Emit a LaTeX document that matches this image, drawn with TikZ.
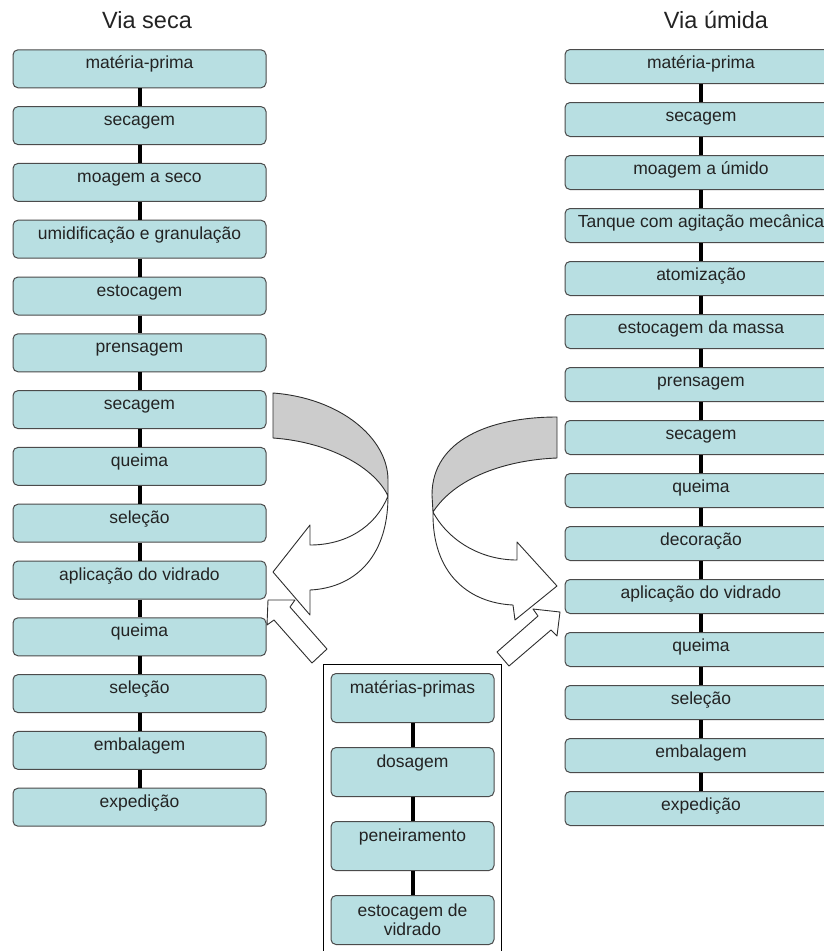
\documentclass[tikz,border=0pt]{standalone}
\usepackage{fontspec}
\setmainfont{Liberation Sans}
\definecolor{boxfill}{RGB}{184,223,226}
\definecolor{boxline}{RGB}{75,75,75}
\definecolor{txt}{RGB}{35,35,35}
\definecolor{ribgray}{RGB}{204,204,204}
\definecolor{arrline}{RGB}{45,45,45}
\begin{document}
\begin{tikzpicture}[x=1pt,y=-1pt,
  boxbase/.style={draw=boxline, line width=1pt, fill=boxfill, rounded corners=5pt, inner sep=0pt, text=txt, font=\fontsize{17.5}{19}\selectfont},
  lbox/.style={boxbase, minimum width=253pt, text height=19pt, text depth=19pt},
  rbox/.style={boxbase, minimum width=272pt, text height=19pt, text depth=15pt},
  mbox/.style={boxbase, minimum width=163pt, text height=19.5pt, text depth=29.5pt},
  conn/.style={line width=4pt, black},
  ribbon/.style={draw=arrline, line width=0.9pt, line join=round},
  title/.style={font=\fontsize{23.5}{26}\selectfont, text=txt, anchor=base}]
\useasboundingbox (0,0) rectangle (824,951);
% titles
\node[title] (T1) at (147,28) {Via seca};
\node[title] (T2) at (716,28) {Via úmida};
% left column
\foreach \i/\t in {1/matéria-prima, 2/secagem, 3/moagem a seco, 4/umidificação e granulação, 5/estocagem, 6/prensagem, 7/secagem, 8/queima, 9/seleção, 10/aplicação do vidrado, 11/queima, 12/seleção, 13/embalagem, 14/expedição}
  \node[lbox, anchor=north] (L\i) at (139.5,{49.3+(\i-1)*56.8}) {\t};
\foreach \i [count=\j from 2] in {1,...,13}
  \draw[conn] (L\i.south) -- (L\j.north);
% right column
\foreach \i/\t in {1/matéria-prima, 2/secagem, 3/moagem a úmido, 4/Tanque com agitação mecânica, 5/atomização, 6/estocagem da massa, 7/prensagem, 8/secagem, 9/queima, 10/decoração, 11/aplicação do vidrado, 12/queima, 13/seleção, 14/embalagem, 15/expedição}
  \node[rbox, anchor=north] (R\i) at (701,{49+(\i-1)*53}) {\t};
\foreach \i [count=\j from 2] in {1,...,14}
  \draw[conn] (R\i.south) -- (R\j.north);
% middle container
\node[draw=black, line width=1pt, inner sep=0pt, minimum width=178pt, minimum height=300pt, anchor=north west] (MB) at (323,664) {};
\node[mbox, anchor=north] (M1) at (412.5,673) {matérias-primas};
\node[mbox, anchor=north] (M2) at (412.5,747) {dosagem};
\node[mbox, anchor=north] (M3) at (412.5,821) {peneiramento};
\node[mbox, anchor=north, text height=21pt, text depth=28pt] (M4) at (412.5,895) {\begin{tabular}[t]{@{}c@{}}estocagem de\\vidrado\end{tabular}};
\draw[conn] (M1.south) -- (M2.north);
\draw[conn] (M2.south) -- (M3.north);
\draw[conn] (M3.south) -- (M4.north);
% left ribbon arrow
\draw[ribbon, fill=ribgray] (273,393) .. controls (340,398) and (388,438) .. (388,480) -- (388,496)
  .. controls (375,468) and (330,442) .. (273,438) -- cycle;
\draw[ribbon, fill=white] (388,496) .. controls (375,528) and (345,545) .. (310,545) -- (310,525) -- (273,572)
  -- (310,615) -- (310,590) .. controls (352,588) and (388,560) .. (388,496) -- cycle;
% right ribbon arrow
\draw[ribbon, fill=ribgray] (557,417) .. controls (490,417) and (432,440) .. (432,495) -- (433,512)
  .. controls (455,478) and (505,460) .. (557,458) -- cycle;
\draw[ribbon, fill=white] (433,512) .. controls (448,540) and (480,560) .. (517,560) -- (517,542) -- (557,586)
  -- (515,620) -- (513,605) .. controls (470,603) and (432,575) .. (433,512) -- cycle;
% small straight arrows
\draw[ribbon, fill=white] (268,600) -- (295,600) -- (290,607) -- (327,649) -- (312,663) -- (274,620) -- (267,625) -- cycle;
\draw[ribbon, fill=white] (560,612) -- (557,636) -- (551,630) -- (509,666) -- (497,652) -- (538,616) -- (533,609) -- cycle;
\end{tikzpicture}
\end{document}
